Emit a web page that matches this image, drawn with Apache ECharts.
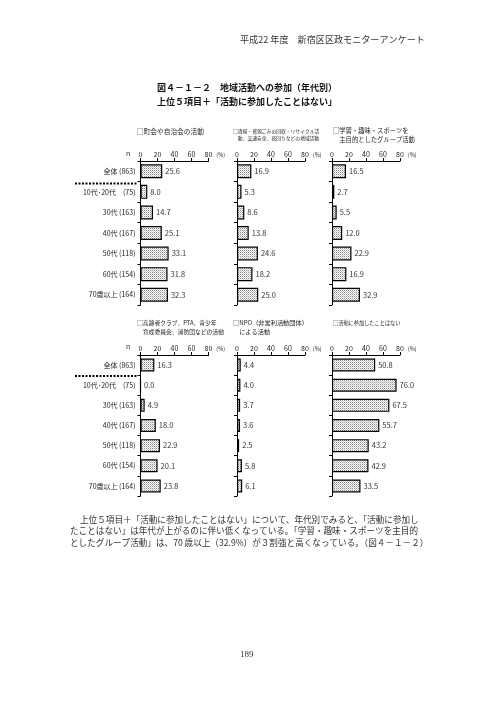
<!DOCTYPE html>
<html><head><meta charset="utf-8">
<script src="https://cdn.jsdelivr.net/npm/echarts@6/dist/echarts.min.js"></script>
<style>html,body{margin:0;padding:0;background:#fff}#c{width:496px;height:702px}</style>
</head><body><div id="c"></div>
<script>
const categories = ['全体 (863)', '10代･20代　(75)', '30代 (163)', '40代 (167)', '50代 (118)', '60代 (154)', '70歳以上 (164)'];
const xTicks = [0, 20, 40, 60, 80];
const chokai = [25.6, 8.0, 14.7, 25.1, 33.1, 31.8, 32.3];
const seiso = [16.9, 5.3, 8.6, 13.8, 24.6, 18.2, 25.0];
const gakushu = [16.5, 2.7, 5.5, 12.0, 22.9, 16.9, 32.9];
const koreisha = [16.3, 0.0, 4.9, 18.0, 22.9, 20.1, 23.8];
const npo = [4.4, 4.0, 3.7, 3.6, 2.5, 5.8, 6.1];
const nashi = [50.8, 76.0, 67.5, 55.7, 43.2, 42.9, 33.5];
const panelTitles = [
  ['□町会や自治会の活動'],
  ['□清掃・資源ごみの回収・リサイクル活', '　動、交通安全、夜回りなどの地域活動'],
  ['□学習・趣味・スポーツを', '　主目的としたグループ活動'],
  ['□高齢者クラブ、PTA、青少年', '　育成委員会、消防団などの活動'],
  ['□NPO（非営利活動団体）', '　による活動'],
  ['□活動に参加したことはない']
];
const panelData = [chokai, seiso, gakushu, koreisha, npo, nashi];

const FONT = '"Noto Sans CJK JP", "Noto Sans", sans-serif';

// dotted fill pattern
const pc = document.createElement('canvas');
pc.width = 2; pc.height = 2;
const pctx = pc.getContext('2d');
pctx.fillStyle = '#fff'; pctx.fillRect(0, 0, 2, 2);
pctx.fillStyle = '#8a8a8a'; pctx.fillRect(0, 0, 1, 1);
pctx.fillStyle = '#c8c8c8'; pctx.fillRect(1, 1, 1, 1);

const lefts = [140.5, 237, 332];
const tops = [161, 355];
const heights = [144, 141];
const barW = [14, 13];

const grids = [], xAxes = [], yAxes = [], series = [], graphics = [];
for (let i = 0; i < 6; i++) {
  const r = Math.floor(i / 3), c = i % 3;
  grids.push({left: lefts[c], top: tops[r], width: 68, height: heights[r]});
  xAxes.push({
    gridIndex: i, type: 'value', position: 'top', min: xTicks[0], max: xTicks[xTicks.length - 1], interval: 20,
    axisLine: {show: true, lineStyle: {color: '#000', width: 1}},
    axisTick: {show: true, length: 3, lineStyle: {color: '#000'}},
    splitLine: {show: false},
    axisLabel: {fontSize: 7, color: '#222', margin: 3, fontFamily: FONT},
    name: '(%)', nameLocation: 'end', nameGap: 0,
    nameTextStyle: {fontSize: 5.5, color: '#222', verticalAlign: 'bottom', padding: [0, 0, 3, 0], fontFamily: FONT}
  });
  yAxes.push({
    gridIndex: i, type: 'category', inverse: true, data: categories,
    axisLine: {show: true, lineStyle: {color: '#000', width: 1}},
    axisTick: {show: true, length: 3, lineStyle: {color: '#000'}},
    axisLabel: {show: c === 0, fontSize: 7, color: '#222', margin: 5, fontFamily: FONT}
  });
  series.push({
    type: 'bar', xAxisIndex: i, yAxisIndex: i, data: panelData[i], barWidth: barW[r],
    itemStyle: {color: {image: pc, repeat: 'repeat'}, borderColor: '#000', borderWidth: 1.2},
    label: {show: true, position: 'right', distance: 3, fontSize: 7.5, color: '#333', fontFamily: FONT,
      formatter: p => p.value.toFixed(1)},
    animation: false
  });
  const t = panelTitles[i];
  const tx = [137, 233, 333][c];
  const ty = r === 0 ? 131 : 323;
  const fs = [[6.7, 4.8, 6.3], [5.8, 6.2, 5.2]][r][c];
  t.forEach((line, k) => {
    graphics.push({type: 'text', left: tx, top: ty + k * (fs + 2.5) - fs / 2,
      style: {text: line, fontSize: fs, fill: '#222', fontFamily: FONT}});
  });
}
// n labels and separators
[[154, 183.5], [347, 376]].forEach(([ny, sy]) => {
  graphics.push({type: 'text', left: 126, top: ny - 4, style: {text: 'n', fontSize: 7, fill: '#222', fontFamily: FONT}});
  graphics.push({type: 'line', shape: {x1: 75, y1: sy, x2: 138, y2: sy},
    style: {stroke: '#000', lineWidth: 2, lineDash: [2, 1.5]}});
});
// header, title, body text, page number
graphics.push({type: 'text', left: 240, top: 35, style: {text: '平成22 年度　新宿区区政モニターアンケート', fontSize: 9.1, fill: '#333', fontFamily: FONT}});
graphics.push({type: 'text', left: 157, top: 83, style: {text: '図４－１－２　地域活動への参加（年代別）', fontSize: 9, fontWeight: 'bold', fill: '#111', fontFamily: FONT}});
graphics.push({type: 'text', left: 157, top: 97, style: {text: '上位５項目＋「活動に参加したことはない」', fontSize: 9, fontWeight: 'bold', fill: '#111', fontFamily: FONT}});
const body = [
  [80, '上位５項目＋「活動に参加したことはない」について、年代別でみると、「活動に参加し'],
  [70, 'たことはない」は年代が上がるのに伴い低くなっている。「学習・趣味・スポーツを主目的'],
  [70, 'としたグループ活動」は、70 歳以上（32.9%）が３割強と高くなっている。（図４－１－２）']
];
body.forEach(([x, s], k) => {
  graphics.push({type: 'text', left: x, top: 515 + k * 11.7, style: {text: s, fontSize: 8.6, fill: '#333', fontFamily: FONT}});
});
graphics.push({type: 'text', left: 240, top: 650, style: {text: '189', fontSize: 9, fill: '#333', fontFamily: '"Liberation Serif", serif'}});

const chart = echarts.init(document.getElementById('c'), null, {renderer: 'canvas'});
chart.setOption({
  animation: false,
  backgroundColor: '#fff',
  grid: grids, xAxis: xAxes, yAxis: yAxes, series: series, graphic: graphics
});
</script></body></html>
